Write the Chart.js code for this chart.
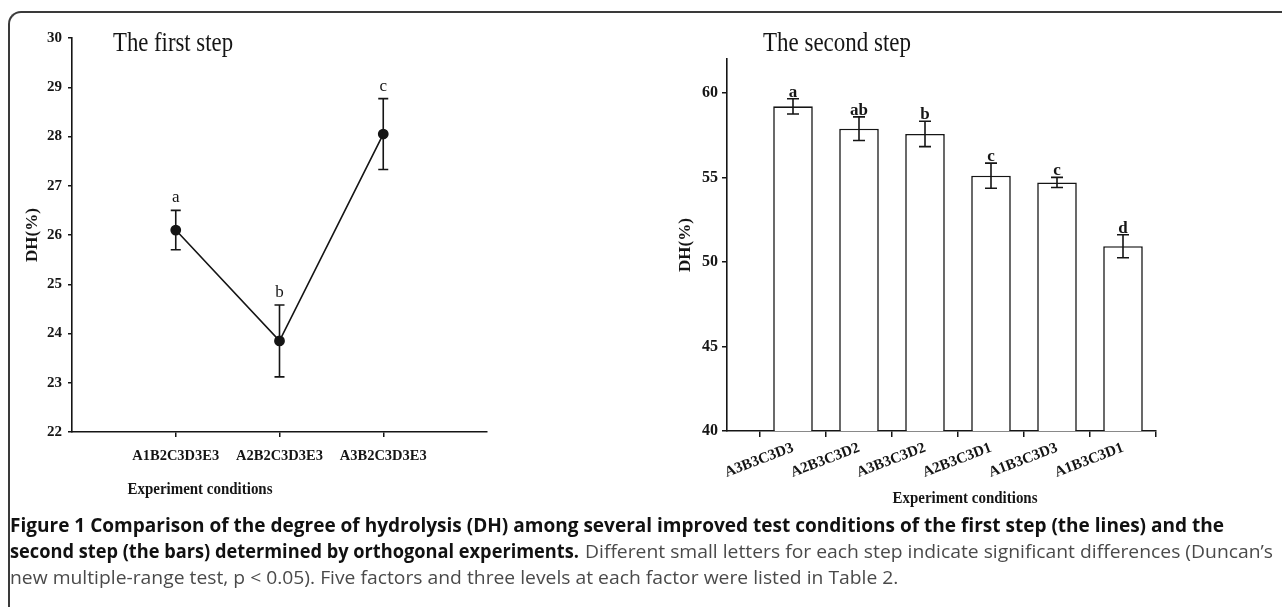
<!DOCTYPE html>
<html><head><meta charset="utf-8">
<script src="https://cdn.jsdelivr.net/npm/chart.js@4.4.1/dist/chart.umd.min.js"></script>
<style>
html,body{margin:0;padding:0;background:#fff;width:1282px;height:607px;overflow:hidden;position:relative;}
#frame{position:absolute;left:8px;top:11px;width:1400px;height:700px;border-top:2px solid #3a3a3a;border-left:2px solid #3a3a3a;border-top-left-radius:13px;box-sizing:border-box;}
#c1{position:absolute;left:0;top:0;}
#c2{position:absolute;left:640px;top:0;}
.cap{position:absolute;white-space:nowrap;font-family:'Open Sans',sans-serif;font-size:19px;line-height:26px;transform-origin:0 0;color:#4a4a4a;}
.cap.b{color:#111;font-weight:700;}
</style></head><body>
<div id="frame"></div>
<canvas id="c1" width="640" height="607"></canvas>
<canvas id="c2" width="642" height="607"></canvas>
<div class="cap b" data-w="1214" style="left:10px;top:512px">Figure 1 Comparison of the degree of hydrolysis (DH) among several improved test conditions of the first step (the lines) and the</div>
<div class="cap b" data-w="569" style="left:10px;top:538px">second step (the bars) determined by orthogonal experiments.</div>
<div class="cap" id="reg2" data-w="688" style="left:585px;top:538px">Different small letters for each step indicate significant differences (Duncan’s</div>
<div class="cap" data-same="reg2" style="left:10px;top:564px">new multiple-range test, p &lt; 0.05). Five factors and three levels at each factor were listed in Table 2.</div>
<script>
// ---- data ----
const firstCats = ['A1B2C3D3E3', 'A2B2C3D3E3', 'A3B2C3D3E3'];
const firstDH = [26.1, 23.85, 28.05];
const firstErr = [0.4, 0.73, 0.72];
const firstLetters = ['a', 'b', 'c'];
const firstYMin = 22, firstYMax = 30;

const secondCats = ['A3B3C3D3', 'A2B3C3D2', 'A3B3C3D2', 'A2B3C3D1', 'A1B3C3D3', 'A1B3C3D1'];
const secondDH = [59.2, 57.88, 57.57, 55.1, 54.7, 50.93];
const secondErr = [0.45, 0.7, 0.75, 0.74, 0.3, 0.68];
const secondLetters = ['a', 'ab', 'b', 'c', 'c', 'd'];
const secondYMin = 40, secondYMax = 62;

const INK = '#151515';
const SERIF = "'Liberation Serif', 'Times New Roman', serif";

function errPlugin(values, errors, letters, cfg) {
  return {
    id: 'errbars',
    afterDatasetsDraw(chart) {
      const ctx = chart.ctx, xs = chart.scales.x, ys = chart.scales.y;
      ctx.save();
      ctx.strokeStyle = INK; ctx.fillStyle = INK; ctx.lineWidth = 1.6;
      values.forEach((v, i) => {
        const x = xs.getPixelForValue(i);
        const yt = ys.getPixelForValue(v + errors[i]);
        const yb = ys.getPixelForValue(v - errors[i]);
        ctx.beginPath();
        ctx.moveTo(x, yt); ctx.lineTo(x, yb);
        ctx.moveTo(x - cfg.cap, yt); ctx.lineTo(x + cfg.cap, yt);
        ctx.moveTo(x - cfg.cap, yb); ctx.lineTo(x + cfg.cap, yb);
        ctx.stroke();
        ctx.font = cfg.font; ctx.textAlign = 'center'; ctx.textBaseline = 'alphabetic';
        ctx.fillText(letters[i], x, yt - cfg.gap);
      });
      ctx.restore();
    }
  };
}
function textPlugin(items) {
  return {
    id: 'texts',
    afterDraw(chart) {
      const ctx = chart.ctx;
      ctx.save(); ctx.fillStyle = INK;
      items.forEach(t => {
        ctx.font = t.font; ctx.textAlign = t.align; ctx.textBaseline = 'alphabetic';
        ctx.fillText(t.text, t.x, t.y, t.maxWidth);
      });
      ctx.restore();
    }
  };
}
function axisCommon(tickLen) {
  return {
    grid: { drawOnChartArea: false, drawTicks: true, tickLength: tickLen, color: INK, lineWidth: 1.5 },
    border: { display: true, color: INK, width: 1.6 }
  };
}

// ---- first step: line chart ----
new Chart(document.getElementById('c1'), {
  type: 'line',
  data: {
    datasets: [{
      data: firstDH.map((v, i) => ({ x: i, y: v })),
      borderColor: INK, borderWidth: 1.6, backgroundColor: INK,
      pointRadius: 4.6, pointBackgroundColor: INK, pointBorderColor: INK,
      tension: 0, fill: false
    }]
  },
  options: {
    responsive: false, animation: false,
    layout: { padding: { left: 0, top: 38, right: 153, bottom: 0 } },
    plugins: { legend: { display: false }, tooltip: { enabled: false } },
    scales: {
      x: {
        type: 'linear', min: -1, max: firstCats.length,
        afterBuildTicks: s => { s.ticks = firstCats.map((_, i) => ({ value: i })); },
        afterFit: s => { s.height = 607 - 432; },
        ticks: { callback: v => firstCats[v], autoSkip: false, maxRotation: 0, padding: 11,
                 color: INK, font: { family: SERIF, weight: 'bold', size: 14.5 } },
        ...axisCommon(5)
      },
      y: {
        min: firstYMin, max: firstYMax,
        afterFit: s => { s.width = 72; },
        ticks: { stepSize: 1, padding: 6, color: INK, font: { family: SERIF, weight: 'bold', size: 15 } },
        title: { display: true, text: 'DH(%)', color: INK, font: { family: SERIF, weight: 'bold', size: 17 }, padding: { top: 22, bottom: 0 } },
        ...axisCommon(4)
      }
    }
  },
  plugins: [
    errPlugin(firstDH, firstErr, firstLetters, { cap: 5, gap: 8, font: "17px " + SERIF }),
    textPlugin([
      { text: 'The first step', x: 113, y: 51, align: 'left', font: "28px " + SERIF, maxWidth: 120 },
      { text: 'Experiment conditions', x: 200, y: 494, align: 'center', font: "bold 17px " + SERIF, maxWidth: 145 }
    ])
  ]
});

// ---- second step: bar chart ----
new Chart(document.getElementById('c2'), {
  type: 'bar',
  data: {
    datasets: [{
      data: secondDH.map((v, i) => ({ x: i, y: [secondYMin, v] })),
      backgroundColor: '#ffffff', borderColor: INK, borderWidth: 1.6,
      borderSkipped: 'start', barPercentage: 0.6, categoryPercentage: 1.0
    }]
  },
  options: {
    responsive: false, animation: false,
    layout: { padding: { left: 0, top: 59, right: 126, bottom: 0 } },
    plugins: { legend: { display: false }, tooltip: { enabled: false } },
    scales: {
      x: {
        type: 'linear', min: -1, max: secondCats.length - 0.5, offset: false,
        afterBuildTicks: s => { s.ticks = secondCats.map((_, i) => ({ value: i })); },
        afterFit: s => { s.height = 607 - 431; },
        ticks: { callback: v => secondCats[v], autoSkip: false, minRotation: 21, maxRotation: 21, padding: 2,
                 color: INK, font: { family: SERIF, weight: 'bold', size: 15 } },
        ...axisCommon(6)
      },
      y: {
        min: secondYMin, max: secondYMax,
        afterFit: s => { s.width = 87; },
        ticks: { stepSize: 5, includeBounds: false, padding: 4, color: INK, font: { family: SERIF, weight: 'bold', size: 16 } },
        title: { display: true, text: 'DH(%)', color: INK, font: { family: SERIF, weight: 'bold', size: 17 }, padding: { top: 35, bottom: 0 } },
        ...axisCommon(5)
      }
    }
  },
  plugins: [
    errPlugin(secondDH, secondErr, secondLetters, { cap: 6, gap: 2, font: "bold 17px " + SERIF }),
    textPlugin([
      { text: 'The second step', x: 123, y: 51, align: 'left', font: "28px " + SERIF, maxWidth: 148 },
      { text: 'Experiment conditions', x: 325, y: 503, align: 'center', font: "bold 17px " + SERIF, maxWidth: 145 }
    ])
  ]
});

// ---- caption fitting ----
function fitCaption() {
  const scales = {};
  document.querySelectorAll('.cap[data-w]').forEach(el => {
    el.style.transform = 'none';
    const w = el.getBoundingClientRect().width;
    const s = parseFloat(el.dataset.w) / w;
    if (el.id) scales[el.id] = s;
    el.style.transform = 'scaleX(' + s + ')';
  });
  document.querySelectorAll('.cap[data-same]').forEach(el => {
    el.style.transform = 'scaleX(' + scales[el.dataset.same] + ')';
  });
}
fitCaption();
if (document.fonts && document.fonts.ready) document.fonts.ready.then(fitCaption);
</script>
</body></html>
